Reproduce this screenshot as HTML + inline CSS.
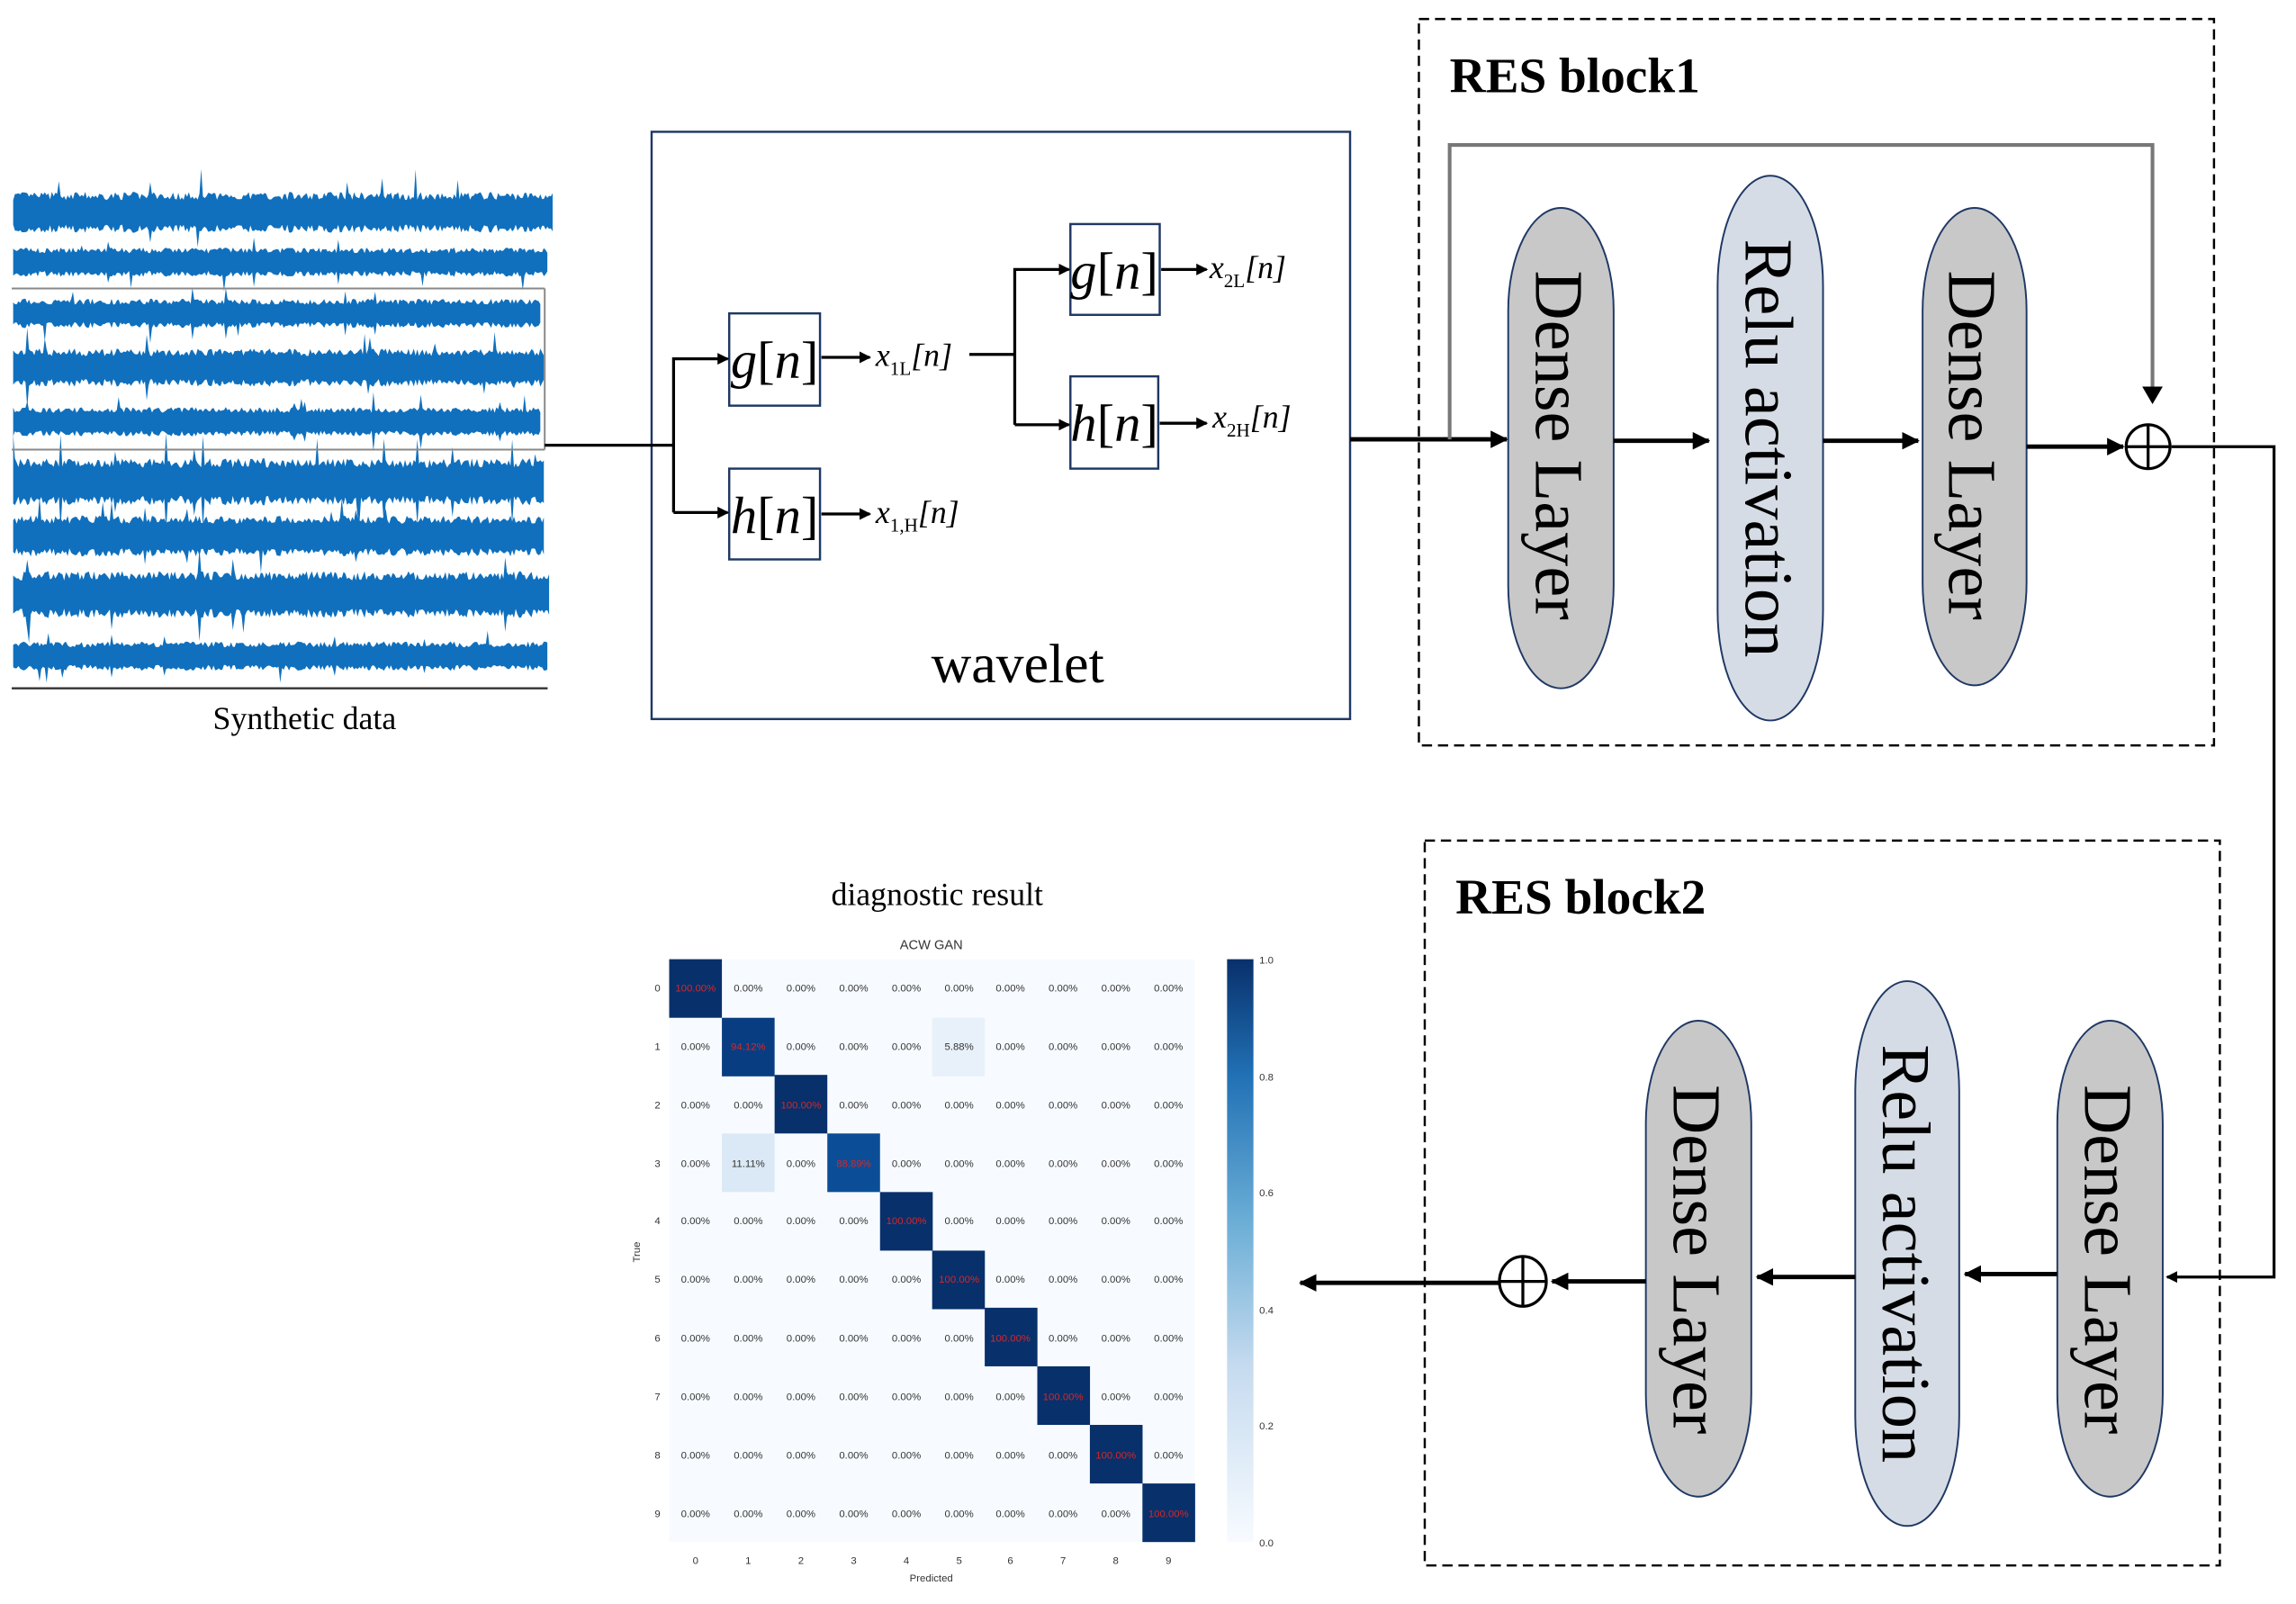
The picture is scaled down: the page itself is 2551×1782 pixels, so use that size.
<!DOCTYPE html>
<html><head><meta charset="utf-8"><style>
html,body{margin:0;padding:0;background:#fff;}
svg{display:block;}
.t{font-family:"Liberation Serif",serif;}
.m{font-family:"Liberation Sans",sans-serif;font-size:7px;text-anchor:middle;fill:#333;}
.r{fill:#d62728;}
</style></head><body>
<svg id="s" width="2551" height="1782" viewBox="0 0 1568 1095.3" preserveAspectRatio="none" xmlns="http://www.w3.org/2000/svg">
<defs>
<marker id="a" markerWidth="8" markerHeight="8" refX="7" refY="4" orient="auto" markerUnits="userSpaceOnUse"><path d="M0,0 L8,4 L0,8 z" fill="#000"/></marker>
<marker id="b" markerWidth="12" markerHeight="12" refX="11" refY="6" orient="auto" markerUnits="userSpaceOnUse"><path d="M0,0 L12,6 L0,12 z" fill="#000"/></marker>
</defs>
<g id="sig"></g>
<g stroke="#888" stroke-width="1.2" fill="none">
<path d="M8,197 H372 M8,307 H372 M372,197 V307"/>
</g>
<path d="M8,470 H374" stroke="#333" stroke-width="1.5"/>
<text class="t" x="208" y="498" font-size="22" text-anchor="middle">Synthetic data</text>

<!-- wavelet -->
<rect x="445" y="90" width="477" height="401" fill="none" stroke="#1f3864" stroke-width="1.5"/>
<text class="t" x="695" y="466" font-size="38" text-anchor="middle">wavelet</text>
<g fill="none" stroke="#1f3864" stroke-width="1.5">
<rect x="498" y="214" width="62" height="63"/><rect x="498" y="320" width="62" height="62"/>
<rect x="731" y="153" width="61" height="62"/><rect x="731" y="257" width="60" height="63"/>
</g>
<g class="t" font-size="36" text-anchor="middle">
<text x="529" y="258"><tspan font-style="italic">g</tspan>[<tspan font-style="italic">n</tspan>]</text>
<text x="529" y="364"><tspan font-style="italic">h</tspan>[<tspan font-style="italic">n</tspan>]</text>
<text x="761" y="197"><tspan font-style="italic">g</tspan>[<tspan font-style="italic">n</tspan>]</text>
<text x="761" y="301"><tspan font-style="italic">h</tspan>[<tspan font-style="italic">n</tspan>]</text>
</g>
<g class="t" font-style="italic" font-size="22">
<text x="598" y="250">x<tspan font-size="13" font-style="normal" dy="6">1L</tspan><tspan dy="-6">[n]</tspan></text>
<text x="598" y="357">x<tspan font-size="13" font-style="normal" dy="6">1,H</tspan><tspan dy="-6">[n]</tspan></text>
<text x="826" y="190">x<tspan font-size="13" font-style="normal" dy="6">2L</tspan><tspan dy="-6">[n]</tspan></text>
<text x="828" y="292">x<tspan font-size="13" font-style="normal" dy="6">2H</tspan><tspan dy="-6">[n]</tspan></text>
</g>
<g stroke="#000" stroke-width="2" fill="none">
<path d="M372,304 H460"/>
<path d="M460,350 V245 H497" marker-end="url(#a)"/>
<path d="M460,350 H497" marker-end="url(#a)"/>
<path d="M561,244 H594" marker-end="url(#a)"/>
<path d="M561,351 H594" marker-end="url(#a)"/>
<path d="M662,242 H693"/>
<path d="M693,290 V184 H730" marker-end="url(#a)"/>
<path d="M693,290 H730" marker-end="url(#a)"/>
<path d="M793,184 H824" marker-end="url(#a)"/>
<path d="M792,289 H824" marker-end="url(#a)"/>
<path d="M922,300 H1029" stroke-width="3" marker-end="url(#b)"/>
</g>

<!-- RES block1 -->
<rect x="969" y="13" width="543" height="496" fill="none" stroke="#000" stroke-width="1.5" stroke-dasharray="7,4"/>
<text class="t" x="990" y="63" font-size="34" font-weight="bold">RES block1</text>
<path d="M990,300 V99 H1470 V274" stroke="#777" stroke-width="2.5" fill="none"/>
<path d="M1463,264 L1470,276 L1477,264 z" fill="#000"/>
<g stroke="#1f3864" stroke-width="1.2">
<rect x="1030" y="142" width="72" height="328" rx="36" ry="70" fill="#c8c8c8"/>
<rect x="1173" y="120" width="72" height="372" rx="36" ry="75" fill="#d6dce5"/>
<rect x="1313" y="142" width="71" height="326" rx="35.5" ry="70" fill="#c8c8c8"/>
</g>
<g class="t" font-size="47">
<text transform="translate(1049,304) rotate(90)" text-anchor="middle">Dense Layer</text>
<text transform="translate(1192,306) rotate(90)" text-anchor="middle">Relu activation</text>
<text transform="translate(1331,304) rotate(90)" text-anchor="middle">Dense Layer</text>
</g>
<g stroke="#000" stroke-width="3" fill="none">
<path d="M1102,301 H1167" marker-end="url(#b)"/>
<path d="M1245,301 H1310" marker-end="url(#b)"/>
<path d="M1384,305 H1450" marker-end="url(#b)"/>
<path d="M1483,305 H1553 V872 H1480" stroke-width="2" marker-end="url(#a)"/>
</g>
<circle cx="1467" cy="305" r="15" fill="#fff" stroke="#000" stroke-width="2"/>
<path d="M1452,305 H1482 M1467,290 V320" stroke="#000" stroke-width="2"/>

<!-- RES block2 -->
<rect x="973" y="574" width="543" height="495" fill="none" stroke="#000" stroke-width="1.5" stroke-dasharray="7,4"/>
<text class="t" x="994" y="624" font-size="34" font-weight="bold">RES block2</text>
<g stroke="#1f3864" stroke-width="1.2">
<rect x="1124" y="697" width="72" height="325" rx="36" ry="70" fill="#c8c8c8"/>
<rect x="1267" y="670" width="71" height="372" rx="35.5" ry="75" fill="#d6dce5"/>
<rect x="1405" y="697" width="72" height="325" rx="36" ry="70" fill="#c8c8c8"/>
</g>
<g class="t" font-size="47">
<text transform="translate(1143,860) rotate(90)" text-anchor="middle">Dense Layer</text>
<text transform="translate(1286,856) rotate(90)" text-anchor="middle">Relu activation</text>
<text transform="translate(1424,860) rotate(90)" text-anchor="middle">Dense Layer</text>
</g>
<g stroke="#000" stroke-width="3" fill="none">
<path d="M1405,870 H1342" marker-end="url(#b)"/>
<path d="M1267,872 H1200" marker-end="url(#b)"/>
<path d="M1124,875 H1060" marker-end="url(#b)"/>
<path d="M1024,876 H888" marker-end="url(#b)"/>
</g>
<ellipse cx="1040" cy="875" rx="16" ry="17" fill="#fff" stroke="#000" stroke-width="2"/>
<path d="M1024,875 H1056 M1040,858 V892" stroke="#000" stroke-width="2"/>

<!-- diagnostic -->
<text class="t" x="640" y="618" font-size="22" text-anchor="middle">diagnostic result</text>
<text x="636" y="648" font-family="Liberation Sans,sans-serif" font-size="9" text-anchor="middle" fill="#333">ACW GAN</text>
<rect x="457" y="655" width="359" height="398" fill="#f7fbff"/>
<g id="cells">
<rect x="457" y="655" width="36" height="40" fill="#08306b"/>
<rect x="493" y="695" width="36" height="40" fill="#083e81"/>
<rect x="636.6" y="695" width="36" height="40" fill="#e8f1fa"/>
<rect x="529" y="734" width="36" height="40" fill="#08306b"/>
<rect x="493" y="774" width="36" height="40" fill="#dbe9f6"/>
<rect x="565" y="774" width="36" height="40" fill="#0b4e97"/>
<rect x="601" y="814" width="36" height="40" fill="#08306b"/>
<rect x="636.6" y="854" width="36" height="40" fill="#08306b"/>
<rect x="672.5" y="893" width="36" height="40" fill="#08306b"/>
<rect x="708.4" y="933" width="36" height="40" fill="#08306b"/>
<rect x="744.3" y="973" width="36" height="40" fill="#08306b"/>
<rect x="780.2" y="1013" width="36" height="40" fill="#08306b"/>
</g>
<g class="m">
<text x="475" y="677" class="r">100.00%</text><text x="511" y="677">0.00%</text><text x="547" y="677">0.00%</text><text x="583" y="677">0.00%</text><text x="619" y="677">0.00%</text><text x="655" y="677">0.00%</text><text x="690" y="677">0.00%</text><text x="726" y="677">0.00%</text><text x="762" y="677">0.00%</text><text x="798" y="677">0.00%</text>
<text x="475" y="717">0.00%</text><text x="511" y="717" class="r">94.12%</text><text x="547" y="717">0.00%</text><text x="583" y="717">0.00%</text><text x="619" y="717">0.00%</text><text x="655" y="717">5.88%</text><text x="690" y="717">0.00%</text><text x="726" y="717">0.00%</text><text x="762" y="717">0.00%</text><text x="798" y="717">0.00%</text>
<text x="475" y="757">0.00%</text><text x="511" y="757">0.00%</text><text x="547" y="757" class="r">100.00%</text><text x="583" y="757">0.00%</text><text x="619" y="757">0.00%</text><text x="655" y="757">0.00%</text><text x="690" y="757">0.00%</text><text x="726" y="757">0.00%</text><text x="762" y="757">0.00%</text><text x="798" y="757">0.00%</text>
<text x="475" y="797">0.00%</text><text x="511" y="797">11.11%</text><text x="547" y="797">0.00%</text><text x="583" y="797" class="r">88.89%</text><text x="619" y="797">0.00%</text><text x="655" y="797">0.00%</text><text x="690" y="797">0.00%</text><text x="726" y="797">0.00%</text><text x="762" y="797">0.00%</text><text x="798" y="797">0.00%</text>
<text x="475" y="836">0.00%</text><text x="511" y="836">0.00%</text><text x="547" y="836">0.00%</text><text x="583" y="836">0.00%</text><text x="619" y="836" class="r">100.00%</text><text x="655" y="836">0.00%</text><text x="690" y="836">0.00%</text><text x="726" y="836">0.00%</text><text x="762" y="836">0.00%</text><text x="798" y="836">0.00%</text>
<text x="475" y="876">0.00%</text><text x="511" y="876">0.00%</text><text x="547" y="876">0.00%</text><text x="583" y="876">0.00%</text><text x="619" y="876">0.00%</text><text x="655" y="876" class="r">100.00%</text><text x="690" y="876">0.00%</text><text x="726" y="876">0.00%</text><text x="762" y="876">0.00%</text><text x="798" y="876">0.00%</text>
<text x="475" y="916">0.00%</text><text x="511" y="916">0.00%</text><text x="547" y="916">0.00%</text><text x="583" y="916">0.00%</text><text x="619" y="916">0.00%</text><text x="655" y="916">0.00%</text><text x="690" y="916" class="r">100.00%</text><text x="726" y="916">0.00%</text><text x="762" y="916">0.00%</text><text x="798" y="916">0.00%</text>
<text x="475" y="956">0.00%</text><text x="511" y="956">0.00%</text><text x="547" y="956">0.00%</text><text x="583" y="956">0.00%</text><text x="619" y="956">0.00%</text><text x="655" y="956">0.00%</text><text x="690" y="956">0.00%</text><text x="726" y="956" class="r">100.00%</text><text x="762" y="956">0.00%</text><text x="798" y="956">0.00%</text>
<text x="475" y="996">0.00%</text><text x="511" y="996">0.00%</text><text x="547" y="996">0.00%</text><text x="583" y="996">0.00%</text><text x="619" y="996">0.00%</text><text x="655" y="996">0.00%</text><text x="690" y="996">0.00%</text><text x="726" y="996">0.00%</text><text x="762" y="996" class="r">100.00%</text><text x="798" y="996">0.00%</text>
<text x="475" y="1036">0.00%</text><text x="511" y="1036">0.00%</text><text x="547" y="1036">0.00%</text><text x="583" y="1036">0.00%</text><text x="619" y="1036">0.00%</text><text x="655" y="1036">0.00%</text><text x="690" y="1036">0.00%</text><text x="726" y="1036">0.00%</text><text x="762" y="1036">0.00%</text><text x="798" y="1036" class="r">100.00%</text>
</g>
<g class="m">
<text x="449" y="677">0</text><text x="449" y="717">1</text><text x="449" y="757">2</text><text x="449" y="797">3</text><text x="449" y="836">4</text><text x="449" y="876">5</text><text x="449" y="916">6</text><text x="449" y="956">7</text><text x="449" y="996">8</text><text x="449" y="1036">9</text>
<text x="475" y="1068">0</text><text x="511" y="1068">1</text><text x="547" y="1068">2</text><text x="583" y="1068">3</text><text x="619" y="1068">4</text><text x="655" y="1068">5</text><text x="690" y="1068">6</text><text x="726" y="1068">7</text><text x="762" y="1068">8</text><text x="798" y="1068">9</text>
<text x="636" y="1080">Predicted</text>
<text transform="translate(437,855) rotate(-90)">True</text>
</g>
<linearGradient id="cb" x1="0" y1="1" x2="0" y2="0"><stop offset="0" stop-color="#f7fbff"/><stop offset="0.3" stop-color="#c6dbef"/><stop offset="0.55" stop-color="#6baed6"/><stop offset="0.8" stop-color="#2171b5"/><stop offset="1" stop-color="#08306b"/></linearGradient>
<rect x="838" y="655" width="18" height="398" fill="url(#cb)"/>
<g class="m">
<text x="860" y="658" style="text-anchor:start">1.0</text><text x="860" y="738" style="text-anchor:start">0.8</text><text x="860" y="817" style="text-anchor:start">0.6</text><text x="860" y="897" style="text-anchor:start">0.4</text><text x="860" y="976" style="text-anchor:start">0.2</text><text x="860" y="1056" style="text-anchor:start">0.0</text>
</g>
</svg>
<script>
(function(){
var g=document.getElementById('sig');var seed=7;function r(){seed=(seed*16807)%2147483647;return seed/2147483647;}
var rows=[[145,14,378],[179,10,374],[214,10,370],[251,13,372],[288,10,370],[329,16,372],[366,14,372],[406,16,376],[448,10,374]];
rows.forEach(function(row){var c=row[0],a=row[1],xe=row[2];var pts1=[],pts2=[];
for(var x=9;x<=xe;x+=1.2){var s=a*(0.6+0.4*r());var sp=r()<0.04?a*(0.4+0.8*r()):0;pts1.push(x.toFixed(1)+','+(c-s-sp*(r()<0.5?1:0)).toFixed(1));pts2.unshift(x.toFixed(1)+','+(c+s+sp*(r()<0.5?1:0)).toFixed(1));}
var p=document.createElementNS('http://www.w3.org/2000/svg','polygon');p.setAttribute('points',pts1.concat(pts2).join(' '));p.setAttribute('fill','#1070bd');g.appendChild(p);});
})();
</script>
</body></html>
